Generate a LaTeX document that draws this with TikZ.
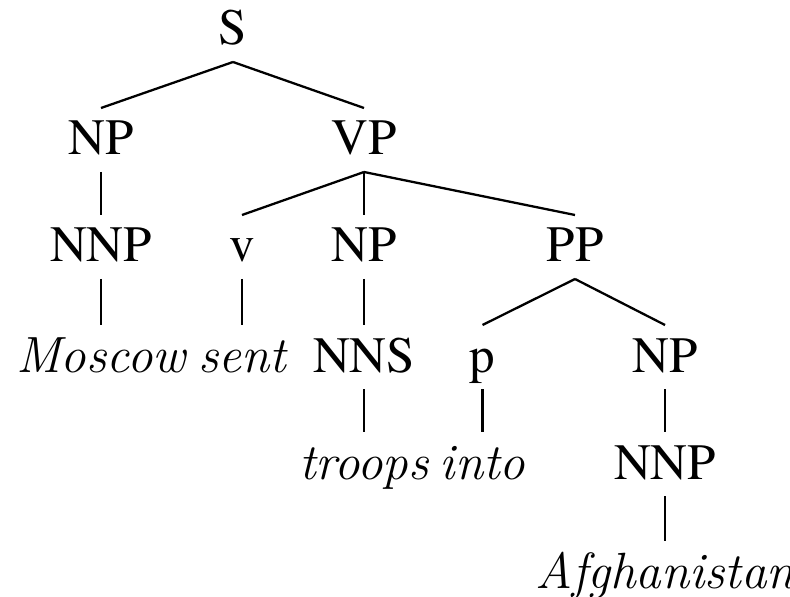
\documentclass[tikz,border=0pt]{standalone}
\usepackage{fontspec}
\newfontfamily\labfont{texgyretermes-regular.otf}

\begin{document}
\begin{tikzpicture}[cat/.style={font=\labfont\fontsize{29}{34}\selectfont,inner sep=0pt,text height=.68cm,text depth=.08cm,outer ysep=.26cm,anchor=base},word/.style={cat,font=\itshape\fontsize{29}{34}\selectfont},line width=1.3pt]
  \useasboundingbox (0,0) rectangle (15.8,11.92);
  \node[cat] (a1) at (4.66,11.02) {S};

  \node[cat] (b1) at (2.02,8.82) {NP};
  \node[cat] (b2) at (7.28,8.82) {VP};

  \node[cat] (c1) at (2.02,6.68) {NNP};
  \node[cat] (c2) at (4.84,6.68) {v};
  \node[cat] (c3) at (7.28,6.68) {NP};
  \node[cat] (c4) at (11.5,6.68) {PP};

  \node[word] (d1) at (2.02,4.48) {Moscow};
  \node[word] (d2) at (4.84,4.48) {sent};
  \node[cat] (d3) at (7.28,4.48) {NNS};
  \node[cat] (d4) at (9.65,4.48) {p};
  \node[cat] (d5) at (13.3,4.48) {NP};

  \node[word] (e1) at (7.28,2.34) {troops};
  \node[word] (e2) at (9.65,2.34) {into};
  \node[cat] (e3) at (13.3,2.34) {NNP};

  \node[word] (f1) at (13.3,0.16) {Afghanistan};

  \draw (a1.south) -- (b1.north);
  \draw (a1.south) -- (b2.north);
  \draw (b1.south) -- (c1.north);
  \draw (b2.south) -- (c2.north);
  \draw (b2.south) -- (c3.north);
  \draw (b2.south) -- (c4.north);
  \draw (c1.south) -- (d1.north);
  \draw (c2.south) -- (d2.north);
  \draw (c3.south) -- (d3.north);
  \draw (c4.south) -- (d4.north);
  \draw (c4.south) -- (d5.north);
  \draw (d3.south) -- (e1.north);
  \draw (d4.south) -- (e2.north);
  \draw (d5.south) -- (e3.north);
  \draw (e3.south) -- (f1.north);
 \end{tikzpicture}
\end{document}
